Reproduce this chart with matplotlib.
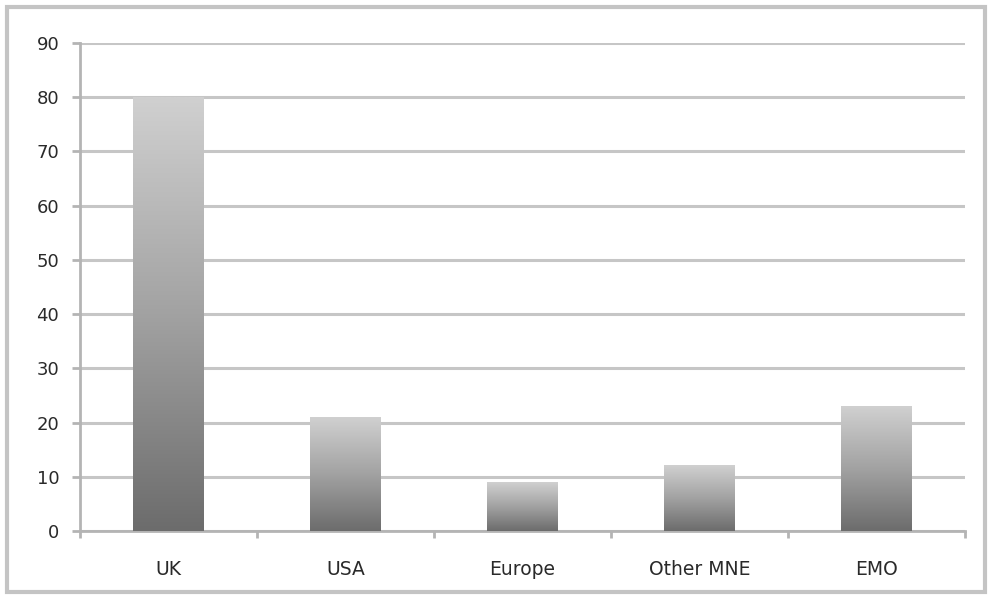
import numpy as np
import matplotlib
matplotlib.use("Agg")
import matplotlib.pyplot as plt
from matplotlib.colors import LinearSegmentedColormap
from matplotlib.patches import Rectangle

categories = ["UK", "USA", "Europe", "Other MNE", "EMO"]
values = [80, 21, 9, 12, 23]
y_ticks = [0, 10, 20, 30, 40, 50, 60, 70, 80, 90]

plt.rcParams["font.family"] = ["DejaVu Sans"]

fig = plt.figure(figsize=(9.9, 5.99), dpi=100)
ax = fig.add_axes([0.0808, 0.1135, 0.8939, 0.8147])

x = np.arange(len(categories))
bars = ax.bar(x, values, width=0.4, color="none", edgecolor="none", zorder=3)

# vertical gray gradient fill: dark at the base, light at the top of each bar
cmap = LinearSegmentedColormap.from_list("bar_grad", ["#6c6c6c", "#a2a2a2", "#d0d0d0"])
grad = np.linspace(0, 1, 256).reshape(-1, 1)
for b in bars:
    x0, y0 = b.get_x(), b.get_y()
    w, h = b.get_width(), b.get_height()
    ax.imshow(grad, cmap=cmap, origin="lower", aspect="auto",
              extent=[x0, x0 + w, y0, y0 + h], zorder=3, interpolation="bilinear")

ax.set_xlim(-0.5, len(categories) - 0.5)
ax.set_ylim(0, 90)
ax.set_yticks(y_ticks)
ax.set_xticks(x)
ax.set_xticklabels(categories)

# category boundary ticks on the x axis
ax.set_xticks(np.arange(len(categories) + 1) - 0.5, minor=True)
ax.tick_params(axis="x", which="major", length=0, pad=21, labelsize=13.5, labelcolor="#2a2a2a")
ax.tick_params(axis="x", which="minor", length=5, width=2, color="#b4b4b4")
ax.tick_params(axis="y", length=6, width=2, color="#b4b4b4", pad=9,
               labelsize=13, labelcolor="#2a2a2a")

ax.yaxis.grid(True, color="#c6c6c6", linewidth=2.2, zorder=0)
ax.set_axisbelow(True)
for side in ["top", "right"]:
    ax.spines[side].set_visible(False)
for side in ["left", "bottom"]:
    ax.spines[side].set_color("#b4b4b4")
    ax.spines[side].set_linewidth(2)

# outer chart frame
fig.patches.append(Rectangle((7 / 990, 7 / 599), 978 / 990, 585 / 599,
                             transform=fig.transFigure, fill=False,
                             edgecolor="#c4c4c4", linewidth=3))

fig.savefig("out.png", dpi=100)
